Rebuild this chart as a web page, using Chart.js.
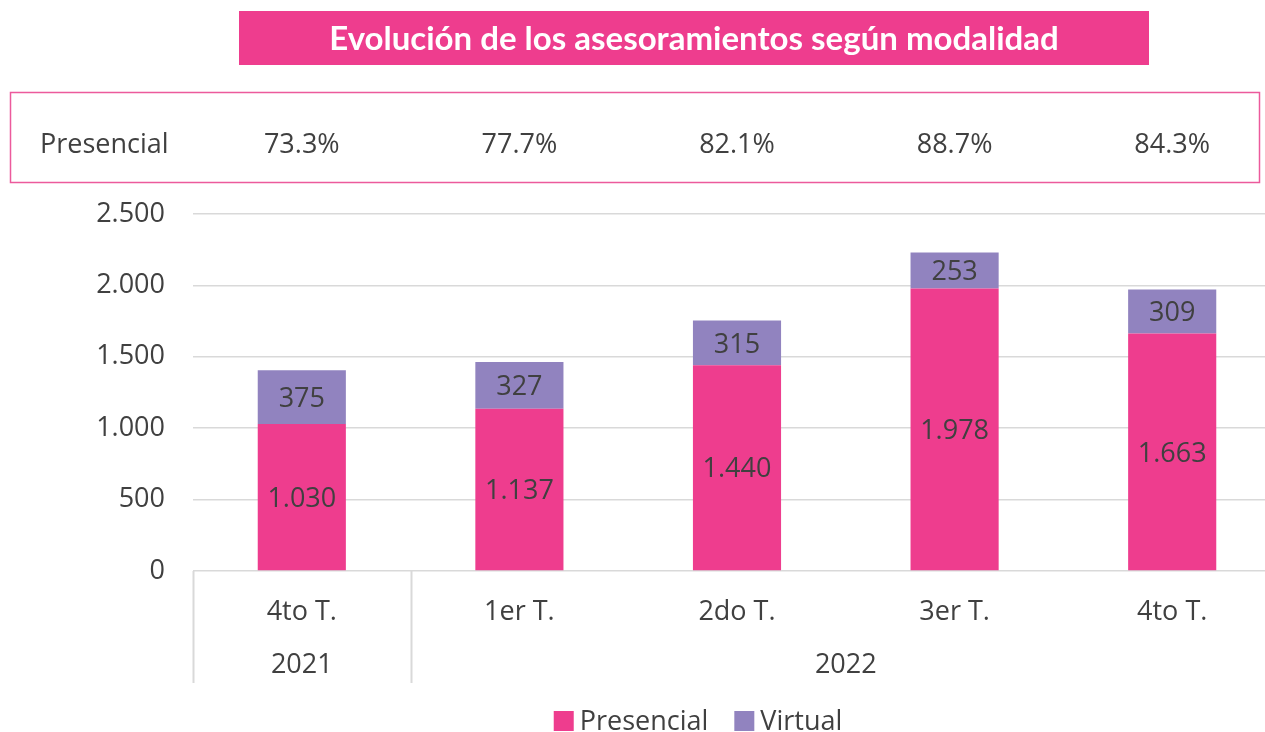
<!DOCTYPE html>
<html>
<head>
<meta charset="utf-8">
<script src="https://cdn.jsdelivr.net/npm/chart.js@4.4.0/dist/chart.umd.min.js"></script>
<style>
    html, body { margin: 0; padding: 0; background: #fff; overflow: hidden; }
    #wrap { width: 1281px; height: 732px; }
</style>
</head>
<body>
<div id="wrap"><canvas id="chart"></canvas></div>
<script>

// =========================
// DATA
// =========================

const quarters = ["4to T.", "1er T.", "2do T.", "3er T.", "4to T."];
const years = ["2021", "2022"];
const yearSpans = [1, 4];

const presencial = [1030, 1137, 1440, 1978, 1663];
const virtual = [375, 327, 315, 253, 309];

const presencialShare = ["73.3%", "77.7%", "82.1%", "88.7%", "84.3%"];

const chartTitle = "Evolución de los asesoramientos según modalidad";

// =========================
// STYLE
// =========================

const PINK = "#EE3D8E";
const PURPLE = "#9183BF";
const TEXT = "#404040";
const GRID = "#D9D9D9";
const FONT = "'Open Sans', 'Noto Sans', sans-serif";

const fmt = v => String(v).replace(/\B(?=(\d{3})+(?!\d))/g, ".");

// =========================
// DECORATION PLUGIN
// =========================

const decor = {
    id: "decor",

    beforeDraw(chart) {
        const ctx = chart.ctx;
        const x = chart.scales.x;

        // title banner
        ctx.save();
        ctx.fillStyle = PINK;
        ctx.fillRect(239, 11, 910, 54);
        ctx.fillStyle = "#fff";
        ctx.font = "bold 33px Lato, " + FONT;
        ctx.textAlign = "center";
        ctx.textBaseline = "middle";
        ctx.fillText(chartTitle, 694, 39);

        // share box
        ctx.strokeStyle = "#EC5A9C";
        ctx.lineWidth = 1.5;
        ctx.strokeRect(10.5, 92.5, 1249, 90);
        ctx.fillStyle = TEXT;
        ctx.font = "27px " + FONT;
        ctx.textAlign = "left";
        ctx.fillText("Presencial", 40, 145);
        ctx.textAlign = "center";
        presencialShare.forEach((s, i) => {
            ctx.fillText(s, x.getPixelForValue(i), 145);
        });
        ctx.restore();
    },

    afterDatasetsDraw(chart) {
        const ctx = chart.ctx;
        ctx.save();
        ctx.fillStyle = TEXT;
        ctx.font = "27px " + FONT;
        ctx.textAlign = "center";
        ctx.textBaseline = "middle";
        chart.data.datasets.forEach((ds, di) => {
            chart.getDatasetMeta(di).data.forEach((bar, i) => {
                const cy = (bar.y + bar.base) / 2 + 2;
                ctx.fillText(fmt(ds.data[i]), bar.x, cy);
            });
        });
        ctx.restore();
    },

    afterDraw(chart) {
        const ctx = chart.ctx;
        const x = chart.scales.x;
        const area = chart.chartArea;
        const half = (x.getPixelForValue(1) - x.getPixelForValue(0)) / 2;

        ctx.save();

        // year group separators
        ctx.strokeStyle = GRID;
        ctx.lineWidth = 2;
        let idx = 0;
        const bounds = [];
        yearSpans.forEach(span => {
            bounds.push([idx, idx + span - 1]);
            idx += span;
        });
        bounds.forEach(([a]) => {
            const px = Math.round(x.getPixelForValue(a) - half) + 0.5;
            ctx.beginPath();
            ctx.moveTo(px, area.bottom);
            ctx.lineTo(px, area.bottom + 112);
            ctx.stroke();
        });

        // year labels
        ctx.fillStyle = TEXT;
        ctx.font = "27px " + FONT;
        ctx.textAlign = "center";
        ctx.textBaseline = "middle";
        bounds.forEach(([a, b], i) => {
            const cx = (x.getPixelForValue(a) + x.getPixelForValue(b)) / 2;
            ctx.fillText(years[i], cx, area.bottom + 94);
        });

        // legend
        ctx.font = "27px " + FONT;
        ctx.textAlign = "left";
        const items = chart.data.datasets.map(ds => ({
            label: ds.label,
            color: ds.backgroundColor,
            w: ctx.measureText(ds.label).width
        }));
        const box = 20, gap = 6, between = 26;
        const total = items.reduce((s, it) => s + box + gap + it.w, 0) + between;
        let lx = 698 - total / 2;
        const ly = 721;
        items.forEach(it => {
            ctx.fillStyle = it.color;
            ctx.fillRect(lx, ly - box / 2, box, box);
            lx += box + gap;
            ctx.fillStyle = TEXT;
            ctx.fillText(it.label, lx, ly + 1);
            lx += it.w + between;
        });

        ctx.restore();
    }
};

// =========================
// CHART
// =========================

const ctx = document.getElementById("chart").getContext("2d");

new Chart(ctx, {
    type: "bar",
    data: {
        labels: quarters,
        datasets: [
            {
                label: "Presencial",
                data: presencial,
                backgroundColor: PINK,
                barPercentage: 0.405,
                categoryPercentage: 1
            },
            {
                label: "Virtual",
                data: virtual,
                backgroundColor: PURPLE,
                barPercentage: 0.405,
                categoryPercentage: 1
            }
        ]
    },
    options: {
        responsive: true,
        maintainAspectRatio: false,
        animation: false,
        layout: {
            padding: { top: 214, left: 0, right: 0, bottom: 0 }
        },
        scales: {
            x: {
                stacked: true,
                grid: { display: false },
                border: { display: false },
                ticks: {
                    color: TEXT,
                    font: { family: FONT, size: 27, lineHeight: 1.2 },
                    padding: 17
                },
                afterFit(scale) { scale.height = 161; }
            },
            y: {
                stacked: true,
                min: 0,
                max: 2500,
                grid: {
                    color: GRID,
                    lineWidth: 1.5,
                    drawTicks: false
                },
                border: { display: false },
                ticks: {
                    stepSize: 500,
                    color: TEXT,
                    font: { family: FONT, size: 27 },
                    padding: 28,
                    callback: v => fmt(v)
                },
                afterFit(scale) { scale.width = 193; }
            }
        },
        plugins: {
            legend: { display: false },
            tooltip: { enabled: false }
        }
    },
    plugins: [decor]
});

</script>
</body>
</html>
